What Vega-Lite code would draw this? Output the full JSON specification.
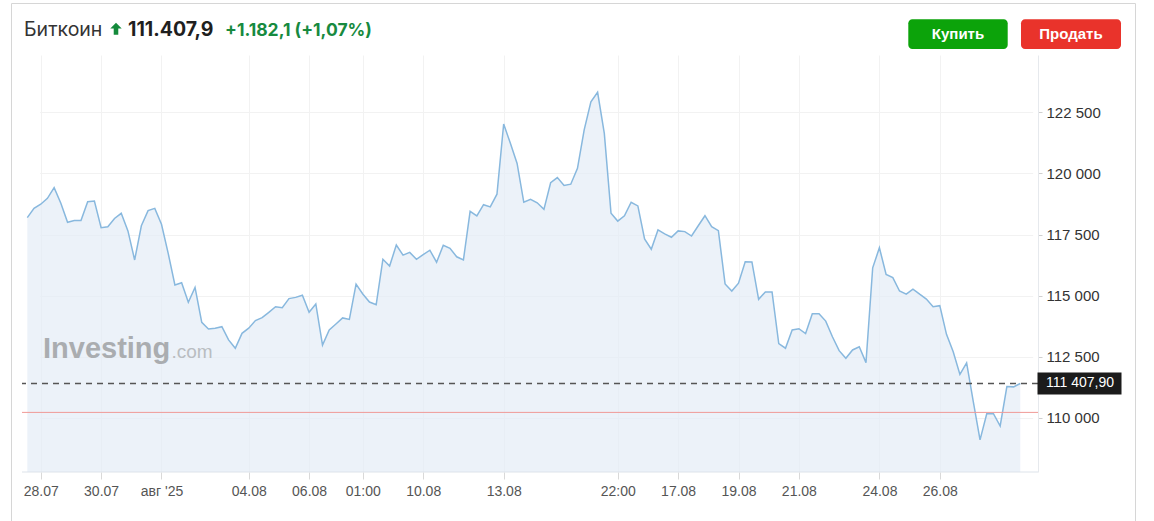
{
  "$schema": "https://vega.github.io/schema/vega-lite/v6.json",
  "width": 1016,
  "height": 417,
  "autosize": {"type": "none"},
  "padding": {"left": 22, "top": 55, "right": 116, "bottom": 49},
  "background": "white",
  "config": {"view": {"stroke": null}, "font": "Liberation Sans"},
  "data": {"values": [
    {"t": "27.07 14:00", "v": 118190}, {"t": "27.07 19:00", "v": 118570}, {"t": "28.07 00:00", "v": 118740},
    {"t": "28.07 05:00", "v": 118980}, {"t": "28.07 11:00", "v": 119420}, {"t": "28.07 16:00", "v": 118780},
    {"t": "28.07 21:00", "v": 118000}, {"t": "29.07 03:00", "v": 118070}, {"t": "29.07 08:00", "v": 118070},
    {"t": "29.07 13:00", "v": 118840}, {"t": "29.07 19:00", "v": 118870}, {"t": "30.07 00:00", "v": 117780},
    {"t": "30.07 05:00", "v": 117820}, {"t": "30.07 11:00", "v": 118160}, {"t": "30.07 16:00", "v": 118370},
    {"t": "30.07 21:00", "v": 117650}, {"t": "31.07 03:00", "v": 116460}, {"t": "31.07 08:00", "v": 117860},
    {"t": "31.07 13:00", "v": 118480}, {"t": "31.07 19:00", "v": 118570}, {"t": "01.08 00:00", "v": 117920},
    {"t": "01.08 06:00", "v": 116730}, {"t": "01.08 11:00", "v": 115440}, {"t": "01.08 17:00", "v": 115530},
    {"t": "01.08 22:00", "v": 114730}, {"t": "02.08 04:00", "v": 115340}, {"t": "02.08 09:00", "v": 113910},
    {"t": "02.08 15:00", "v": 113640}, {"t": "02.08 20:00", "v": 113670}, {"t": "03.08 02:00", "v": 113730},
    {"t": "03.08 07:00", "v": 113190}, {"t": "03.08 13:00", "v": 112850}, {"t": "03.08 18:00", "v": 113460},
    {"t": "04.08 00:00", "v": 113670}, {"t": "04.08 05:00", "v": 113980}, {"t": "04.08 11:00", "v": 114100},
    {"t": "04.08 16:00", "v": 114320}, {"t": "04.08 21:00", "v": 114550}, {"t": "05.08 03:00", "v": 114510},
    {"t": "05.08 08:00", "v": 114880}, {"t": "05.08 13:00", "v": 114930}, {"t": "05.08 19:00", "v": 115020},
    {"t": "06.08 00:00", "v": 114320}, {"t": "06.08 06:00", "v": 114660}, {"t": "06.08 12:00", "v": 112980},
    {"t": "06.08 18:00", "v": 113600}, {"t": "07.08 01:00", "v": 113840}, {"t": "07.08 07:00", "v": 114090},
    {"t": "07.08 13:00", "v": 114030}, {"t": "07.08 19:00", "v": 115470}, {"t": "08.08 01:00", "v": 115070},
    {"t": "08.08 06:00", "v": 114740}, {"t": "08.08 11:00", "v": 114630}, {"t": "08.08 17:00", "v": 116490},
    {"t": "08.08 22:00", "v": 116210}, {"t": "09.08 03:00", "v": 117070}, {"t": "09.08 08:00", "v": 116660},
    {"t": "09.08 13:00", "v": 116770}, {"t": "09.08 19:00", "v": 116490}, {"t": "10.08 00:00", "v": 116680},
    {"t": "10.08 06:00", "v": 116860}, {"t": "10.08 12:00", "v": 116370}, {"t": "10.08 18:00", "v": 117060},
    {"t": "11.08 00:00", "v": 116940}, {"t": "11.08 06:00", "v": 116590}, {"t": "11.08 12:00", "v": 116460},
    {"t": "11.08 18:00", "v": 118450}, {"t": "12.08 00:00", "v": 118260}, {"t": "12.08 06:00", "v": 118720},
    {"t": "12.08 12:00", "v": 118630}, {"t": "12.08 18:00", "v": 119150}, {"t": "13.08 00:00", "v": 122020},
    {"t": "13.08 04:00", "v": 121230}, {"t": "13.08 08:00", "v": 120410}, {"t": "13.08 12:00", "v": 118820},
    {"t": "13.08 16:00", "v": 118940}, {"t": "13.08 20:00", "v": 118800}, {"t": "14.08 00:00", "v": 118530},
    {"t": "14.08 04:00", "v": 119620}, {"t": "14.08 08:00", "v": 119830}, {"t": "14.08 12:00", "v": 119510},
    {"t": "14.08 16:00", "v": 119560}, {"t": "14.08 20:00", "v": 120210}, {"t": "15.08 01:00", "v": 121780},
    {"t": "15.08 05:00", "v": 122930}, {"t": "15.08 09:00", "v": 123320}, {"t": "15.08 13:00", "v": 121640},
    {"t": "15.08 17:00", "v": 118370}, {"t": "15.08 22:00", "v": 118050}, {"t": "16.08 01:00", "v": 118270},
    {"t": "16.08 04:00", "v": 118820}, {"t": "16.08 07:00", "v": 118670}, {"t": "16.08 10:00", "v": 117320},
    {"t": "16.08 13:00", "v": 116900}, {"t": "16.08 16:00", "v": 117690}, {"t": "16.08 19:00", "v": 117530},
    {"t": "16.08 21:00", "v": 117390}, {"t": "17.08 00:00", "v": 117650}, {"t": "17.08 05:00", "v": 117620},
    {"t": "17.08 11:00", "v": 117440}, {"t": "17.08 16:00", "v": 117860}, {"t": "17.08 21:00", "v": 118270},
    {"t": "18.08 03:00", "v": 117820}, {"t": "18.08 08:00", "v": 117660}, {"t": "18.08 13:00", "v": 115480},
    {"t": "18.08 19:00", "v": 115190}, {"t": "19.08 00:00", "v": 115510}, {"t": "19.08 05:00", "v": 116390},
    {"t": "19.08 11:00", "v": 116380}, {"t": "19.08 16:00", "v": 114850}, {"t": "19.08 21:00", "v": 115150},
    {"t": "20.08 03:00", "v": 115150}, {"t": "20.08 08:00", "v": 113040}, {"t": "20.08 13:00", "v": 112850},
    {"t": "20.08 19:00", "v": 113600}, {"t": "21.08 00:00", "v": 113650}, {"t": "21.08 06:00", "v": 113450},
    {"t": "21.08 12:00", "v": 114260}, {"t": "21.08 18:00", "v": 114260}, {"t": "22.08 00:00", "v": 113960},
    {"t": "22.08 06:00", "v": 113320}, {"t": "22.08 12:00", "v": 112750}, {"t": "22.08 18:00", "v": 112440},
    {"t": "23.08 00:00", "v": 112780}, {"t": "23.08 06:00", "v": 112910}, {"t": "23.08 12:00", "v": 112260},
    {"t": "23.08 18:00", "v": 116140}, {"t": "24.08 00:00", "v": 116960}, {"t": "24.08 05:00", "v": 115870},
    {"t": "24.08 11:00", "v": 115740}, {"t": "24.08 16:00", "v": 115190}, {"t": "24.08 21:00", "v": 115060},
    {"t": "25.08 03:00", "v": 115270}, {"t": "25.08 08:00", "v": 115060}, {"t": "25.08 13:00", "v": 114860},
    {"t": "25.08 19:00", "v": 114550}, {"t": "26.08 00:00", "v": 114590}, {"t": "26.08 04:00", "v": 113420},
    {"t": "26.08 08:00", "v": 112710}, {"t": "26.08 12:00", "v": 111780}, {"t": "26.08 16:00", "v": 112250},
    {"t": "26.08 20:00", "v": 110660}, {"t": "27.08 00:00", "v": 109100}, {"t": "27.08 04:00", "v": 110170},
    {"t": "27.08 08:00", "v": 110170}, {"t": "27.08 12:00", "v": 109670}, {"t": "27.08 16:00", "v": 111280},
    {"t": "27.08 18:00", "v": 111270}, {"t": "27.08 19:00", "v": 111407.9}
  ]},
  "layer": [
    {
      "data": {"values": [{}]},
      "mark": {"type": "rect", "fillOpacity": 0, "stroke": "#d6d6d6", "strokeWidth": 1},
      "encoding": {"x": {"value": -10.5}, "x2": {"value": 1113.5}, "y": {"value": -51.5}, "y2": {"value": 480}}
    },
    {
      "mark": {"type": "area", "color": "#e4edf6", "line": {"color": "#88b8de", "strokeWidth": 1.5}},
      "encoding": {
        "x": {
          "field": "t", "type": "ordinal", "sort": null,
          "scale": {"type": "point", "padding": 0, "range": [5.3, 998.3]},
          "axis": {
            "orient": "bottom", "title": null, "labelAngle": 0, "domain": false,
            "values": ["28.07 00:00", "30.07 00:00", "01.08 00:00", "04.08 00:00", "06.08 00:00", "08.08 01:00", "10.08 00:00", "13.08 00:00", "15.08 22:00", "17.08 00:00", "19.08 00:00", "21.08 00:00", "24.08 00:00", "26.08 00:00"],
            "labelExpr": "slice(datum.value, 6) == '00:00' ? (datum.value == '01.08 00:00' ? \"авг '25\" : slice(datum.value, 0, 5)) : slice(datum.value, 6)",
            "grid": true, "gridColor": "#f2f2f2",
            "tickColor": "#d9d9d9", "tickSize": 7, "labelPadding": 5,
            "labelFontSize": 14, "labelColor": "#555555", "labelFont": "Liberation Sans"
          }
        },
        "y": {
          "field": "v", "type": "quantitative",
          "scale": {"domain": [107788, 124844], "zero": false, "nice": false},
          "axis": {
            "orient": "right", "title": null,
            "values": [110000, 112500, 115000, 117500, 120000, 122500],
            "labelExpr": "replace(format(datum.value, ','), ',', ' ')",
            "grid": true, "gridColor": "#f2f2f2", "domainColor": "#e6e9ed",
            "tickColor": "#cfcfcf", "tickSize": 4, "labelPadding": 4,
            "labelFontSize": 15, "labelColor": "#333333", "labelFont": "Liberation Sans"
          }
        },
        "y2": {"datum": 107788}
      }
    },
    {
      "data": {"values": [{}]},
      "mark": {"type": "rule", "color": "#dde3ea", "strokeWidth": 1},
      "encoding": {"y": {"datum": 107788}}
    },
    {
      "data": {"values": [{}]},
      "mark": {"type": "text", "text": "Investing", "font": "Liberation Sans", "fontWeight": "bold", "fontSize": 29, "color": "#aaadb0", "align": "left", "baseline": "alphabetic"},
      "encoding": {"x": {"value": 21}, "y": {"value": 303}}
    },
    {
      "data": {"values": [{}]},
      "mark": {"type": "text", "text": ".com", "font": "Liberation Sans", "fontSize": 19, "color": "#b9bdc1", "align": "left", "baseline": "alphabetic"},
      "encoding": {"x": {"value": 149.5}, "y": {"value": 303}}
    },
    {
      "data": {"values": [{}]},
      "mark": {"type": "rule", "color": "#f09a96", "strokeWidth": 1},
      "encoding": {"y": {"datum": 110225.8}}
    },
    {
      "data": {"values": [{}]},
      "mark": {"type": "rule", "color": "#555555", "strokeWidth": 1.5, "strokeDash": [6, 5]},
      "encoding": {"y": {"datum": 111407.9}}
    },
    {
      "data": {"values": [{}]},
      "mark": {"type": "point", "shape": "M-1,-0.262L1,-0.262L1,0.262L-1,0.262Z", "size": 7056, "filled": true, "color": "#1b1b1b", "opacity": 1},
      "encoding": {"x": {"value": 1057.5}, "y": {"datum": 111407.9}}
    },
    {
      "data": {"values": [{}]},
      "mark": {"type": "text", "text": "111 407,90", "font": "Liberation Sans", "fontSize": 14, "color": "#ffffff", "align": "left", "baseline": "middle"},
      "encoding": {"x": {"value": 1024}, "y": {"datum": 111407.9}}
    },
    {
      "data": {"values": [{}]},
      "mark": {"type": "text", "text": "Биткоин", "font": "Inter", "fontSize": 19.5, "color": "#333333", "align": "left", "baseline": "alphabetic"},
      "encoding": {"x": {"value": 2}, "y": {"value": -19}}
    },
    {
      "data": {"values": [{}]},
      "mark": {"type": "point", "shape": "M0,-1L0.95,-0.05L0.38,-0.05L0.38,1L-0.38,1L-0.38,-0.05L-0.95,-0.05Z", "size": 144, "filled": true, "color": "#148a3b", "opacity": 1},
      "encoding": {"x": {"value": 94}, "y": {"value": -26.2}}
    },
    {
      "data": {"values": [{}]},
      "mark": {"type": "text", "text": "111.407,9", "font": "Inter", "fontWeight": "bold", "fontSize": 19.5, "color": "#1f1f1f", "align": "left", "baseline": "alphabetic"},
      "encoding": {"x": {"value": 106}, "y": {"value": -19}}
    },
    {
      "data": {"values": [{}]},
      "mark": {"type": "text", "text": "+1.182,1 (+1,07%)", "font": "Inter", "fontWeight": "bold", "fontSize": 17.5, "color": "#178a3f", "align": "left", "baseline": "alphabetic"},
      "encoding": {"x": {"value": 203}, "y": {"value": -19}}
    },
    {
      "data": {"values": [{}]},
      "mark": {"type": "rect", "color": "#0ca30a", "cornerRadius": 4},
      "encoding": {"x": {"value": 886.3}, "x2": {"value": 985.7}, "y": {"value": -35.7}, "y2": {"value": -6}}
    },
    {
      "data": {"values": [{}]},
      "mark": {"type": "rect", "color": "#e9332b", "cornerRadius": 4},
      "encoding": {"x": {"value": 999}, "x2": {"value": 1099}, "y": {"value": -35.7}, "y2": {"value": -6}}
    },
    {
      "data": {"values": [{}]},
      "mark": {"type": "text", "text": "Купить", "font": "Liberation Sans", "fontWeight": "bold", "fontSize": 15, "color": "#ffffff", "align": "center", "baseline": "middle"},
      "encoding": {"x": {"value": 936}, "y": {"value": -21}}
    },
    {
      "data": {"values": [{}]},
      "mark": {"type": "text", "text": "Продать", "font": "Liberation Sans", "fontWeight": "bold", "fontSize": 15, "color": "#ffffff", "align": "center", "baseline": "middle"},
      "encoding": {"x": {"value": 1049}, "y": {"value": -21}}
    }
  ]
}
